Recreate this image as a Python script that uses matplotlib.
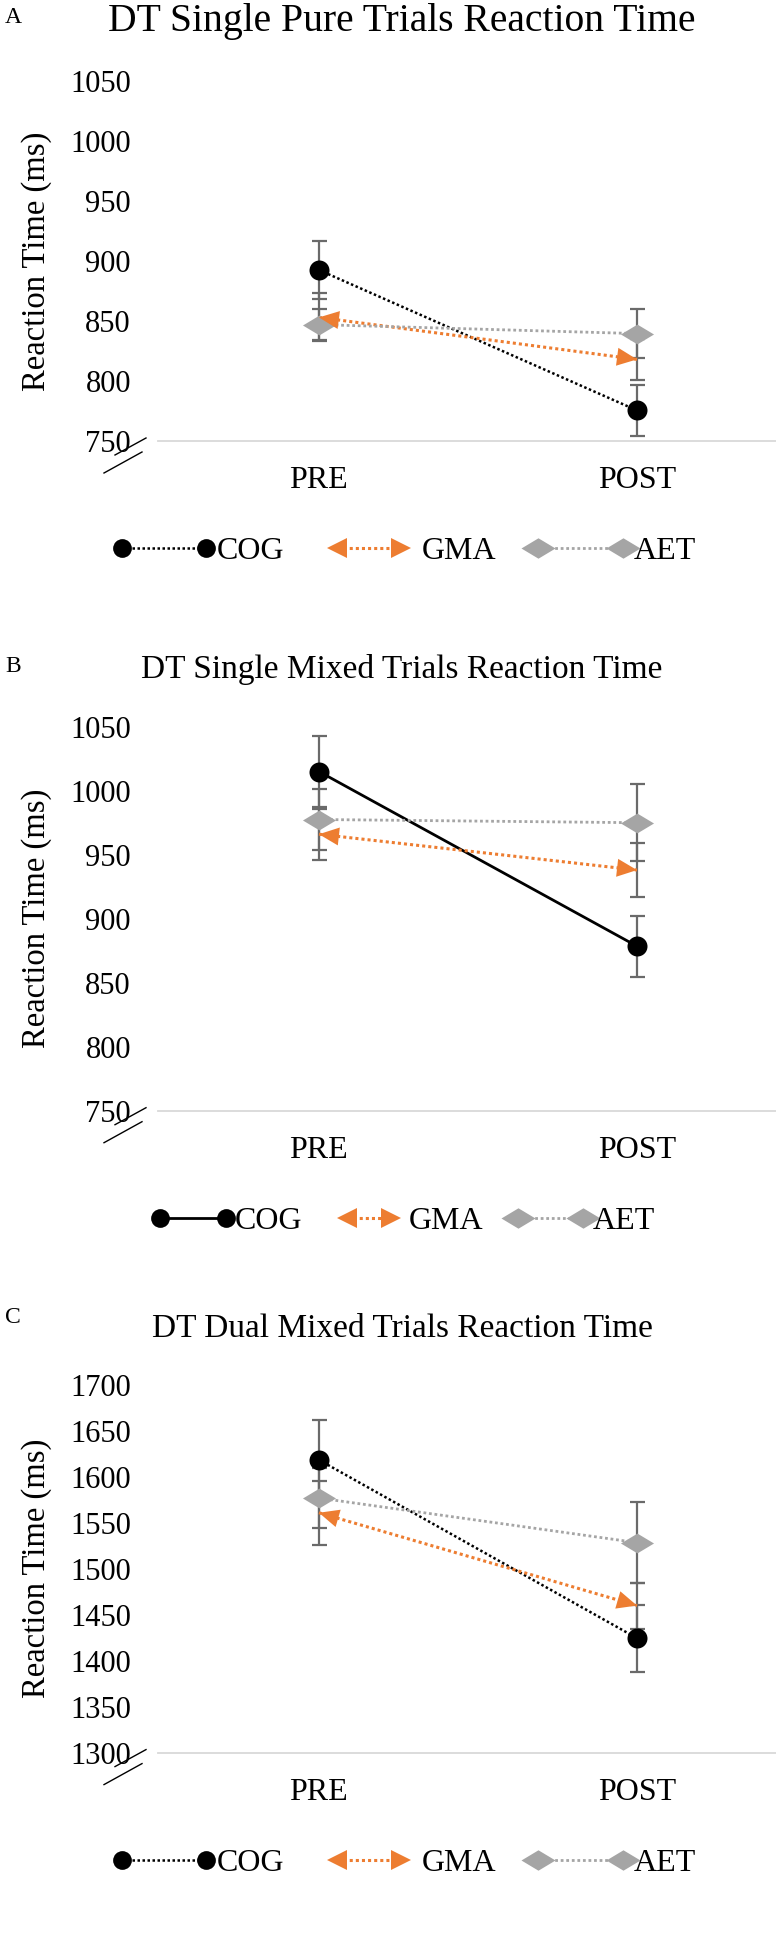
import matplotlib
matplotlib.use('Agg')
import matplotlib.pyplot as plt
from matplotlib.path import Path
from matplotlib.lines import Line2D

plt.rcParams['font.family'] = ['Liberation Serif', 'DejaVu Serif']

# ---------------- data ----------------
phases = ['PRE', 'POST']
groups = ['COG', 'GMA', 'AET']
panel_letters = ['A', 'B', 'C']
titles = ['DT Single Pure Trials Reaction Time',
          'DT Single Mixed Trials Reaction Time',
          'DT Dual Mixed Trials Reaction Time']
ylabel = 'Reaction Time (ms)'

# Panel A: DT single pure
a_cog = [892.5, 775.5]
a_cog_err = [24.5, 21.0]
a_gma = [853.0, 818.0]
a_gma_err = [20.0, 17.0]
a_aet = [847.0, 839.5]
a_aet_err = [13.0, 20.5]
a_yticks = [750, 800, 850, 900, 950, 1000, 1050]

# Panel B: DT single mixed
b_cog = [1015.0, 878.5]
b_cog_err = [28.0, 24.0]
b_gma = [966.0, 938.0]
b_gma_err = [20.0, 21.0]
b_aet = [977.5, 975.0]
b_aet_err = [24.0, 30.0]
b_yticks = [750, 800, 850, 900, 950, 1000, 1050]

# Panel C: DT dual mixed
c_cog = [1618.5, 1424.5]
c_cog_err = [43.5, 36.5]
c_gma = [1561.0, 1460.0]
c_gma_err = [35.0, 25.0]
c_aet = [1577.0, 1528.5]
c_aet_err = [33.0, 44.0]
c_yticks = [1300, 1350, 1400, 1450, 1500, 1550, 1600, 1650, 1700]

# ---------------- style ----------------
W, H = 776, 1955
BLACK = '#000000'
ORANGE = '#ed7d31'
GRAY = '#a5a5a5'
ERR = '#6a6a6a'
AXIS = '#d9d9d9'

def fx(px):
    return px / W

def fy(py):
    return 1 - py / H

diamond = Path([(-1, 0), (0, 0.6), (1, 0), (0, -0.6), (-1, 0)],
               [Path.MOVETO, Path.LINETO, Path.LINETO, Path.LINETO, Path.CLOSEPOLY])

fig = plt.figure(figsize=(W / 100, H / 100), dpi=100)
fig.patch.set_facecolor('white')

panels = [
    dict(cog=a_cog, cog_err=a_cog_err, gma=a_gma, gma_err=a_gma_err,
         aet=a_aet, aet_err=a_aet_err, yticks=a_yticks, cog_ls=(0, (1, 1)),
         top=81.0, bottom=441.0, title_y=31, title_size=28.5, letter_y=23,
         legend_y=548, legend_layout='wide'),
    dict(cog=b_cog, cog_err=b_cog_err, gma=b_gma, gma_err=b_gma_err,
         aet=b_aet, aet_err=b_aet_err, yticks=b_yticks, cog_ls='-',
         top=726.7, bottom=1110.7, title_y=678, title_size=24, letter_y=672,
         legend_y=1218, legend_layout='narrow'),
    dict(cog=c_cog, cog_err=c_cog_err, gma=c_gma, gma_err=c_gma_err,
         aet=c_aet, aet_err=c_aet_err, yticks=c_yticks, cog_ls=(0, (1, 1)),
         top=1385.0, bottom=1752.6, title_y=1337, title_size=24, letter_y=1323,
         legend_y=1860, legend_layout='wide'),
]

legend_layouts = {
    'wide': dict(cog=(122, 206, 217), gma=(337, 401, 422), aet=(538, 623, 634)),
    'narrow': dict(cog=(160, 226, 235), gma=(347, 391, 409), aet=(518, 583, 593)),
}

x = [0, 1]
AX_LEFT = 158

for i, p in enumerate(panels):
    ax = fig.add_axes([fx(AX_LEFT), fy(p['bottom']), fx(W) - fx(AX_LEFT),
                       (p['bottom'] - p['top']) / H])
    ax.set_facecolor('none')
    yt = p['yticks']
    ax.set_ylim(yt[0], yt[-1])
    ax.set_xlim(-0.506, 1.437)

    # error bars
    for vals, errs in ((p['cog'], p['cog_err']), (p['gma'], p['gma_err']),
                       (p['aet'], p['aet_err'])):
        ax.errorbar(x, vals, yerr=errs, fmt='none', ecolor=ERR, elinewidth=1.6,
                    capsize=5.4, capthick=1.6, zorder=2)

    # lines
    ax.plot(x, p['cog'], color=BLACK, lw=1.8 if p['cog_ls'] != '-' else 2.0,
            linestyle=p['cog_ls'], zorder=3)
    ax.plot(x, p['gma'], color=ORANGE, lw=2.2, linestyle=(0, (1, 1)), zorder=3)
    ax.plot(x, p['aet'], color=GRAY, lw=2.0, linestyle=(0, (1, 1)), zorder=3)

    # markers
    ax.plot(x, p['aet'], linestyle='none', marker=diamond, markersize=23.8,
            color=GRAY, markeredgewidth=0, zorder=4)
    ax.annotate('', xy=(x[1], p['gma'][1]), xytext=(x[0], p['gma'][0]),
                arrowprops=dict(arrowstyle='<|-|>,head_length=1.0,head_width=0.45',
                                mutation_scale=14.4, fc=ORANGE, ec='none', lw=0,
                                shrinkA=0, shrinkB=0),
                zorder=5)
    ax.plot(x, p['cog'], linestyle='none', marker='o', markersize=14.4,
            color=BLACK, markeredgewidth=0, zorder=6)

    # axes styling
    for s in ('top', 'left', 'right'):
        ax.spines[s].set_visible(False)
    ax.spines['bottom'].set_color(AXIS)
    ax.spines['bottom'].set_linewidth(1.3)
    ax.set_yticks(yt)
    ax.set_yticklabels([str(t) for t in yt])
    ax.set_xticks(x)
    ax.set_xticklabels(phases)
    ax.tick_params(axis='y', length=0, pad=19.5, labelsize=22)
    ax.tick_params(axis='x', length=0, pad=18, labelsize=23)

    # y label, title, panel letter
    fig.text(fx(37), fy((p['top'] + p['bottom']) / 2), ylabel, rotation=90,
             ha='center', va='center', fontsize=23.5)
    fig.text(fx(402), fy(p['title_y']), titles[i], ha='center', va='baseline',
             fontsize=p['title_size'])
    fig.text(fx(5), fy(p['letter_y']), panel_letters[i], ha='left', va='baseline',
             fontsize=17)

    # axis break marks
    y0 = p['bottom']
    for (x1, d1, x2, d2) in ((115, 14, 146, -3), (104, 32, 142, 11)):
        fig.add_artist(Line2D([fx(x1), fx(x2)], [fy(y0 + d1), fy(y0 + d2)],
                              transform=fig.transFigure, color=BLACK, lw=1.0))

    # legend
    lay = legend_layouts[p['legend_layout']]
    ly = p['legend_y']
    base = ly + 11
    c1, c2, ct = lay['cog']
    fig.add_artist(Line2D([fx(c1), fx(c2)], [fy(ly), fy(ly)], transform=fig.transFigure,
                          color=BLACK, lw=1.8 if p['cog_ls'] != '-' else 2.0,
                          linestyle=p['cog_ls'], marker='o', markersize=13.5,
                          markeredgewidth=0))
    fig.text(fx(ct), fy(base), groups[0], ha='left', va='baseline', fontsize=23)
    g1, g2, gt = lay['gma']
    fig.add_artist(Line2D([fx(g1), fx(g2)], [fy(ly), fy(ly)], transform=fig.transFigure,
                          color=ORANGE, lw=2.2, linestyle=(0, (1, 1))))
    fig.add_artist(Line2D([fx(g1)], [fy(ly)], transform=fig.transFigure, color=ORANGE,
                          marker='<', markersize=14, markeredgewidth=0, linestyle='none'))
    fig.add_artist(Line2D([fx(g2)], [fy(ly)], transform=fig.transFigure, color=ORANGE,
                          marker='>', markersize=14, markeredgewidth=0, linestyle='none'))
    fig.text(fx(gt), fy(base), groups[1], ha='left', va='baseline', fontsize=23)
    d1, d2, dt = lay['aet']
    fig.add_artist(Line2D([fx(d1), fx(d2)], [fy(ly), fy(ly)], transform=fig.transFigure,
                          color=GRAY, lw=2.0, linestyle=(0, (1, 1)), marker=diamond,
                          markersize=24.5, markeredgewidth=0))
    fig.text(fx(dt), fy(base), groups[2], ha='left', va='baseline', fontsize=23)

fig.savefig('out.png', dpi=100, facecolor='white')
